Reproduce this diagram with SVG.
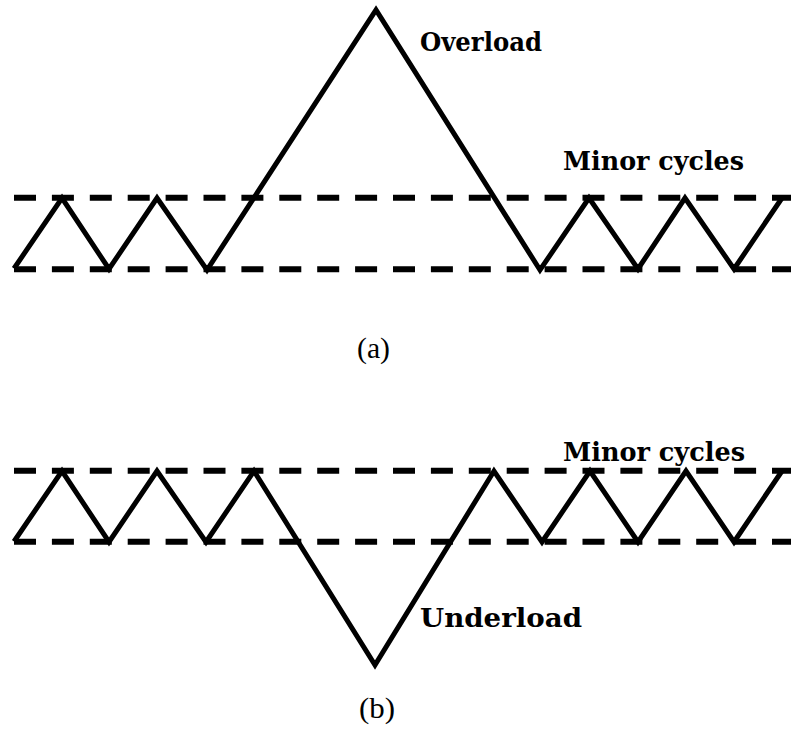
<svg xmlns="http://www.w3.org/2000/svg" width="791" height="732" viewBox="0 0 791 732">
  <style>
    .band { stroke: #000; stroke-width: 6; stroke-dasharray: 22 15.9; fill: none; }
    .load { stroke: #000; stroke-width: 5; fill: none; stroke-linejoin: miter; }
    .lbl { font-family: "DejaVu Serif", "Liberation Serif", serif; font-weight: bold; font-size: 26px; fill: #000; }
    .cap { font-family: "Liberation Serif", "Times New Roman", serif; font-size: 30px; fill: #000; }
  </style>
  <rect width="791" height="732" fill="#fff"/>

  <!-- (a) overload within minor cycles -->
  <g id="panel-a">
    <g id="bands-a">
      <line class="band" x1="14" y1="197.7" x2="791" y2="197.7"/>
      <line class="band" x1="14" y1="269.3" x2="791" y2="269.3"/>
    </g>
    <polyline id="history-a" class="load" points="14,268.5 62,198 109,269 157,198 207,270 376,10 540,270 589,198 638,269 685,198 734,269 782,198"/>
    <text id="label-overload" class="lbl" x="420" y="51" textLength="122" lengthAdjust="spacingAndGlyphs">Overload</text>
    <text id="label-minor-a" class="lbl" x="563" y="170" textLength="181" lengthAdjust="spacingAndGlyphs">Minor cycles</text>
    <text id="caption-a" class="cap" x="357" y="358" textLength="33" lengthAdjust="spacingAndGlyphs">(a)</text>
  </g>

  <!-- (b) underload within minor cycles -->
  <g id="panel-b">
    <g id="bands-b">
      <line class="band" x1="14" y1="470.7" x2="791" y2="470.7"/>
      <line class="band" x1="14" y1="541.7" x2="791" y2="541.7"/>
    </g>
    <polyline id="history-b" class="load" points="14,541.5 62,471 109,542 157,471 206,542 254,471 375,665 494,471 542,542 590,471 638,542 686,471 734,542 782,471"/>
    <text id="label-underload" class="lbl" x="420" y="627" textLength="162" lengthAdjust="spacingAndGlyphs">Underload</text>
    <text id="label-minor-b" class="lbl" x="563" y="461" textLength="182" lengthAdjust="spacingAndGlyphs">Minor cycles</text>
    <text id="caption-b" class="cap" x="359" y="718" textLength="36" lengthAdjust="spacingAndGlyphs">(b)</text>
  </g>
</svg>
